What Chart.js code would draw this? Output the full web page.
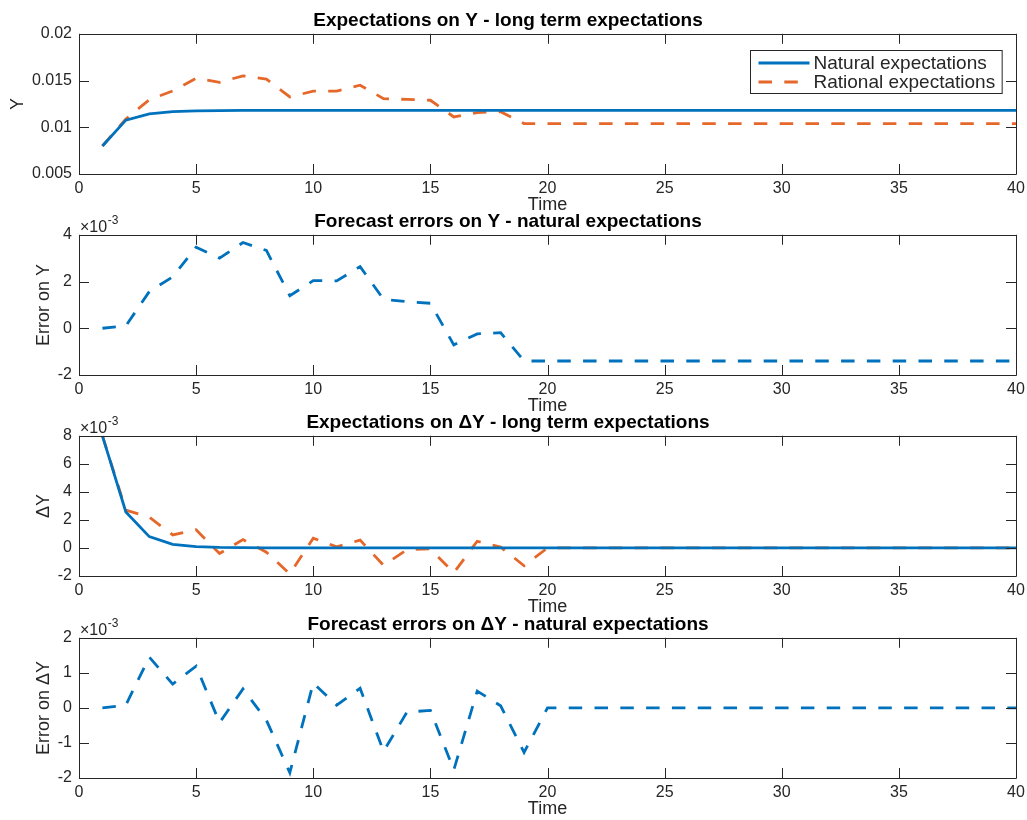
<!DOCTYPE html>
<html>
<head>
<meta charset="utf-8">
<title>Expectations</title>
<script src="https://cdn.jsdelivr.net/npm/chart.js@4.4.1/dist/chart.umd.min.js"></script>
<style>
  body { margin: 0; background: #fff; }
  #wrap { position: relative; width: 1027px; height: 820px; overflow: hidden; }
  canvas { position: absolute; left: 0; }
</style>
</head>
<body>
<div id="wrap">
  <canvas id="c1" width="1027" height="216" style="top:0px"></canvas>
  <canvas id="c2" width="1027" height="216" style="top:201px"></canvas>
  <canvas id="c3" width="1027" height="216" style="top:402px"></canvas>
  <canvas id="c4" width="1027" height="216" style="top:604px"></canvas>
</div>
<script>
// time periods and ticks
const time = [1, 2, 3, 4, 5, 6, 7, 8, 9, 10, 11, 12, 13, 14, 15, 16, 17, 18, 19, 20,
              21, 22, 23, 24, 25, 26, 27, 28, 29, 30, 31, 32, 33, 34, 35, 36, 37, 38, 39, 40];
const xTicks = [0, 5, 10, 15, 20, 25, 30, 35, 40];
const yTicks1 = [0.005, 0.01, 0.015, 0.02];
const yTicks2 = [-0.002, 0, 0.002, 0.004];
const yTicks3 = [-0.002, 0, 0.002, 0.004, 0.006, 0.008];
const yTicks4 = [-0.002, -0.001, 0, 0.001, 0.002];

// Y levels
const natY = [0.0080, 0.01076, 0.01144, 0.01168, 0.01176, 0.01179, 0.0118, 0.0118, 0.0118, 0.0118,
              0.0118, 0.0118, 0.0118, 0.0118, 0.0118, 0.0118, 0.0118, 0.0118, 0.0118, 0.0118,
              0.0118, 0.0118, 0.0118, 0.0118, 0.0118, 0.0118, 0.0118, 0.0118, 0.0118, 0.0118,
              0.0118, 0.0118, 0.0118, 0.0118, 0.0118, 0.0118, 0.0118, 0.0118, 0.0118, 0.0118];
const ratY = [0.0080, 0.01088, 0.01295, 0.01389, 0.01524, 0.01481, 0.01550, 0.01516, 0.01324, 0.01387,
              0.01387, 0.01450, 0.01306, 0.01298, 0.01289, 0.01111, 0.01157, 0.01167, 0.0104, 0.0104,
              0.0104, 0.0104, 0.0104, 0.0104, 0.0104, 0.0104, 0.0104, 0.0104, 0.0104, 0.0104,
              0.0104, 0.0104, 0.0104, 0.0104, 0.0104, 0.0104, 0.0104, 0.0104, 0.0104, 0.0104];
// forecast errors on Y
const errY = [0, 0.0001, 0.00157, 0.0022, 0.00347, 0.0030, 0.00367, 0.00333, 0.00139, 0.00204,
              0.00203, 0.00264, 0.00124, 0.00114, 0.00107, -0.00071, -0.00024, -0.00019, -0.0014, -0.0014,
              -0.0014, -0.0014, -0.0014, -0.0014, -0.0014, -0.0014, -0.0014, -0.0014, -0.0014, -0.0014,
              -0.0014, -0.0014, -0.0014, -0.0014, -0.0014, -0.0014, -0.0014, -0.0014, -0.0014, -0.0014];
// delta Y
const natDY = [0.008, 0.00257, 0.00081, 0.00026, 0.0001, 0.00004, 0.00002, 0.00001, 0, 0,
               0, 0, 0, 0, 0, 0, 0, 0, 0, 0,
               0, 0, 0, 0, 0, 0, 0, 0, 0, 0,
               0, 0, 0, 0, 0, 0, 0, 0, 0, 0];
const ratDY = [0.008, 0.0027, 0.0022, 0.00093, 0.0013, -0.0004, 0.0006, -0.0003, -0.00185, 0.0007,
               0.00008, 0.00056, -0.00124, -0.00012, -0.00007, -0.00177, 0.00048, 0.00006, -0.00127, 0,
               0, 0, 0, 0, 0, 0, 0, 0, 0, 0,
               0, 0, 0, 0, 0, 0, 0, 0, 0, 0];
// forecast errors on delta Y
const errDY = [0, 0.00008, 0.00145, 0.00068, 0.00119, -0.00042, 0.00054, -0.00035, -0.00185, 0.00071,
               0.00008, 0.00056, -0.00124, -0.00012, -0.00007, -0.00177, 0.00048, 0.00006, -0.00127, 0,
               0, 0, 0, 0, 0, 0, 0, 0, 0, 0,
               0, 0, 0, 0, 0, 0, 0, 0, 0, 0];

const blue = '#0072BD';
const orange = '#E5682A';
const axisColor = '#262626';
const fontFamily = '"Liberation Sans", Arial, Helvetica, sans-serif';
const dash = [13.5, 12.3];

Chart.defaults.font.family = fontFamily;

const pts = ys => ys.map((y, i) => ({ x: time[i], y: y }));

// MATLAB-like box, inward ticks, exponent label and boxed legend
const matlabAxes = {
  id: 'matlabAxes',
  afterDraw(chart, args, opts) {
    const { ctx, chartArea: a, scales: { x, y } } = chart;
    ctx.save();
    ctx.strokeStyle = axisColor;
    ctx.lineWidth = 1;
    ctx.beginPath();
    ctx.rect(Math.round(a.left) + 0.5, Math.round(a.top) + 0.5, Math.round(a.width), Math.round(a.height));
    x.ticks.forEach(t => {
      const px = Math.round(x.getPixelForValue(t.value)) + 0.5;
      ctx.moveTo(px, a.bottom); ctx.lineTo(px, a.bottom - 10);
      ctx.moveTo(px, a.top); ctx.lineTo(px, a.top + 10);
    });
    y.ticks.forEach(t => {
      const py = Math.round(y.getPixelForValue(t.value)) + 0.5;
      ctx.moveTo(a.left, py); ctx.lineTo(a.left + 10, py);
      ctx.moveTo(a.right, py); ctx.lineTo(a.right - 10, py);
    });
    ctx.stroke();

    if (opts.expo) {
      ctx.fillStyle = axisColor;
      ctx.textBaseline = 'middle';
      ctx.textAlign = 'left';
      ctx.font = '16px ' + fontFamily;
      const base = '\u00d710';
      ctx.fillText(base, a.left + 1, a.top - 7);
      const w = ctx.measureText(base).width;
      ctx.font = '12px ' + fontFamily;
      ctx.fillText('-3', a.left + 1 + w + 0.5, a.top - 14);
    }

    if (opts.legend) {
      const ds = chart.data.datasets;
      ctx.font = '19px ' + fontFamily;
      const tw = Math.max(...ds.map(d => ctx.measureText(d.label).width));
      const w = 8 + 51 + 4 + tw + 7;
      const h = 43;
      const bx = Math.round(a.right - 14 - w) + 0.5;
      const by = Math.round(a.top + 16) + 0.5;
      ctx.fillStyle = '#fff';
      ctx.fillRect(bx, by, w, h);
      ctx.strokeStyle = axisColor;
      ctx.lineWidth = 1;
      ctx.setLineDash([]);
      ctx.strokeRect(bx, by, w, h);
      ds.forEach((d, i) => {
        const ry = by + 12.5 + i * 19;
        ctx.strokeStyle = d.borderColor;
        ctx.lineWidth = d.borderWidth;
        ctx.setLineDash(d.borderDash || []);
        ctx.beginPath();
        ctx.moveTo(bx + 8, ry); ctx.lineTo(bx + 59, ry);
        ctx.stroke();
        ctx.setLineDash([]);
        ctx.fillStyle = axisColor;
        ctx.textBaseline = 'middle';
        ctx.textAlign = 'left';
        ctx.fillText(d.label, bx + 63, ry + 1);
      });
    }
    ctx.restore();
  }
};

function fmtPlain(v) { return String(parseFloat(v.toFixed(4))); }
function fmtMilli(v) { return String(Math.round(v * 1000)); }

function makeChart(id, cfg) {
  return new Chart(document.getElementById(id), {
    type: 'line',
    data: { datasets: cfg.datasets },
    options: {
      responsive: false,
      animation: false,
      devicePixelRatio: 1,
      layout: { padding: { left: 0, right: 11, top: 0, bottom: 0 } },
      elements: { point: { radius: 0 }, line: { tension: 0 } },
      plugins: {
        legend: { display: false },
        tooltip: { enabled: false },
        title: {
          display: true,
          text: cfg.title,
          color: '#000',
          font: { size: 19, weight: 'bold' },
          padding: { top: 9, bottom: 2 }
        },
        matlabAxes: { expo: cfg.expo, legend: cfg.legend }
      },
      scales: {
        x: {
          type: 'linear',
          min: 0,
          max: 40,
          afterBuildTicks: s => { s.ticks = xTicks.map(v => ({ value: v })); },
          afterFit: s => { s.height = 42; s.paddingLeft = 0; s.paddingRight = 0; },
          grid: { display: false, drawTicks: false, tickLength: 0 },
          border: { display: false },
          ticks: { color: axisColor, font: { size: 16 }, padding: 5, maxRotation: 0, autoSkip: false },
          title: { display: true, text: 'Time', color: axisColor, font: { size: 18 }, padding: 0 }
        },
        y: {
          type: 'linear',
          min: cfg.yTicks[0],
          max: cfg.yTicks[cfg.yTicks.length - 1],
          afterBuildTicks: s => { s.ticks = cfg.yTicks.map(v => ({ value: v })); },
          afterFit: s => { s.width = 79; },
          grid: { display: false, drawTicks: false, tickLength: 0 },
          border: { display: false },
          ticks: { color: axisColor, font: { size: 16 }, padding: 7, callback: cfg.fmt },
          title: {
            display: true,
            text: cfg.yLabel,
            color: axisColor,
            font: { size: 18 },
            padding: { top: cfg.yTitlePad, bottom: 0 }
          }
        }
      }
    },
    plugins: [matlabAxes]
  });
}

makeChart('c1', {
  title: 'Expectations on Y - long term expectations',
  yLabel: 'Y',
  yTitlePad: 7,
  yTicks: yTicks1,
  fmt: fmtPlain,
  expo: false,
  legend: true,
  datasets: [
    { label: 'Natural expectations', data: pts(natY), borderColor: blue, borderWidth: 2.8 },
    { label: 'Rational expectations', data: pts(ratY), borderColor: orange, borderWidth: 2.8, borderDash: dash }
  ]
});

makeChart('c2', {
  title: 'Forecast errors on Y - natural expectations',
  yLabel: 'Error on Y',
  yTitlePad: 33,
  yTicks: yTicks2,
  fmt: fmtMilli,
  expo: true,
  legend: false,
  datasets: [
    { label: 'Error on Y', data: pts(errY), borderColor: blue, borderWidth: 2.8, borderDash: dash }
  ]
});

makeChart('c3', {
  title: 'Expectations on \u0394Y - long term expectations',
  yLabel: '\u0394Y',
  yTitlePad: 33,
  yTicks: yTicks3,
  fmt: fmtMilli,
  expo: true,
  legend: false,
  datasets: [
    { label: 'Natural expectations', data: pts(natDY), borderColor: blue, borderWidth: 2.8 },
    { label: 'Rational expectations', data: pts(ratDY), borderColor: orange, borderWidth: 2.8, borderDash: dash }
  ]
});

makeChart('c4', {
  title: 'Forecast errors on \u0394Y - natural expectations',
  yLabel: 'Error on \u0394Y',
  yTitlePad: 33,
  yTicks: yTicks4,
  fmt: fmtMilli,
  expo: true,
  legend: false,
  datasets: [
    { label: 'Error on \u0394Y', data: pts(errDY), borderColor: blue, borderWidth: 2.8, borderDash: dash }
  ]
});
</script>
</body>
</html>
